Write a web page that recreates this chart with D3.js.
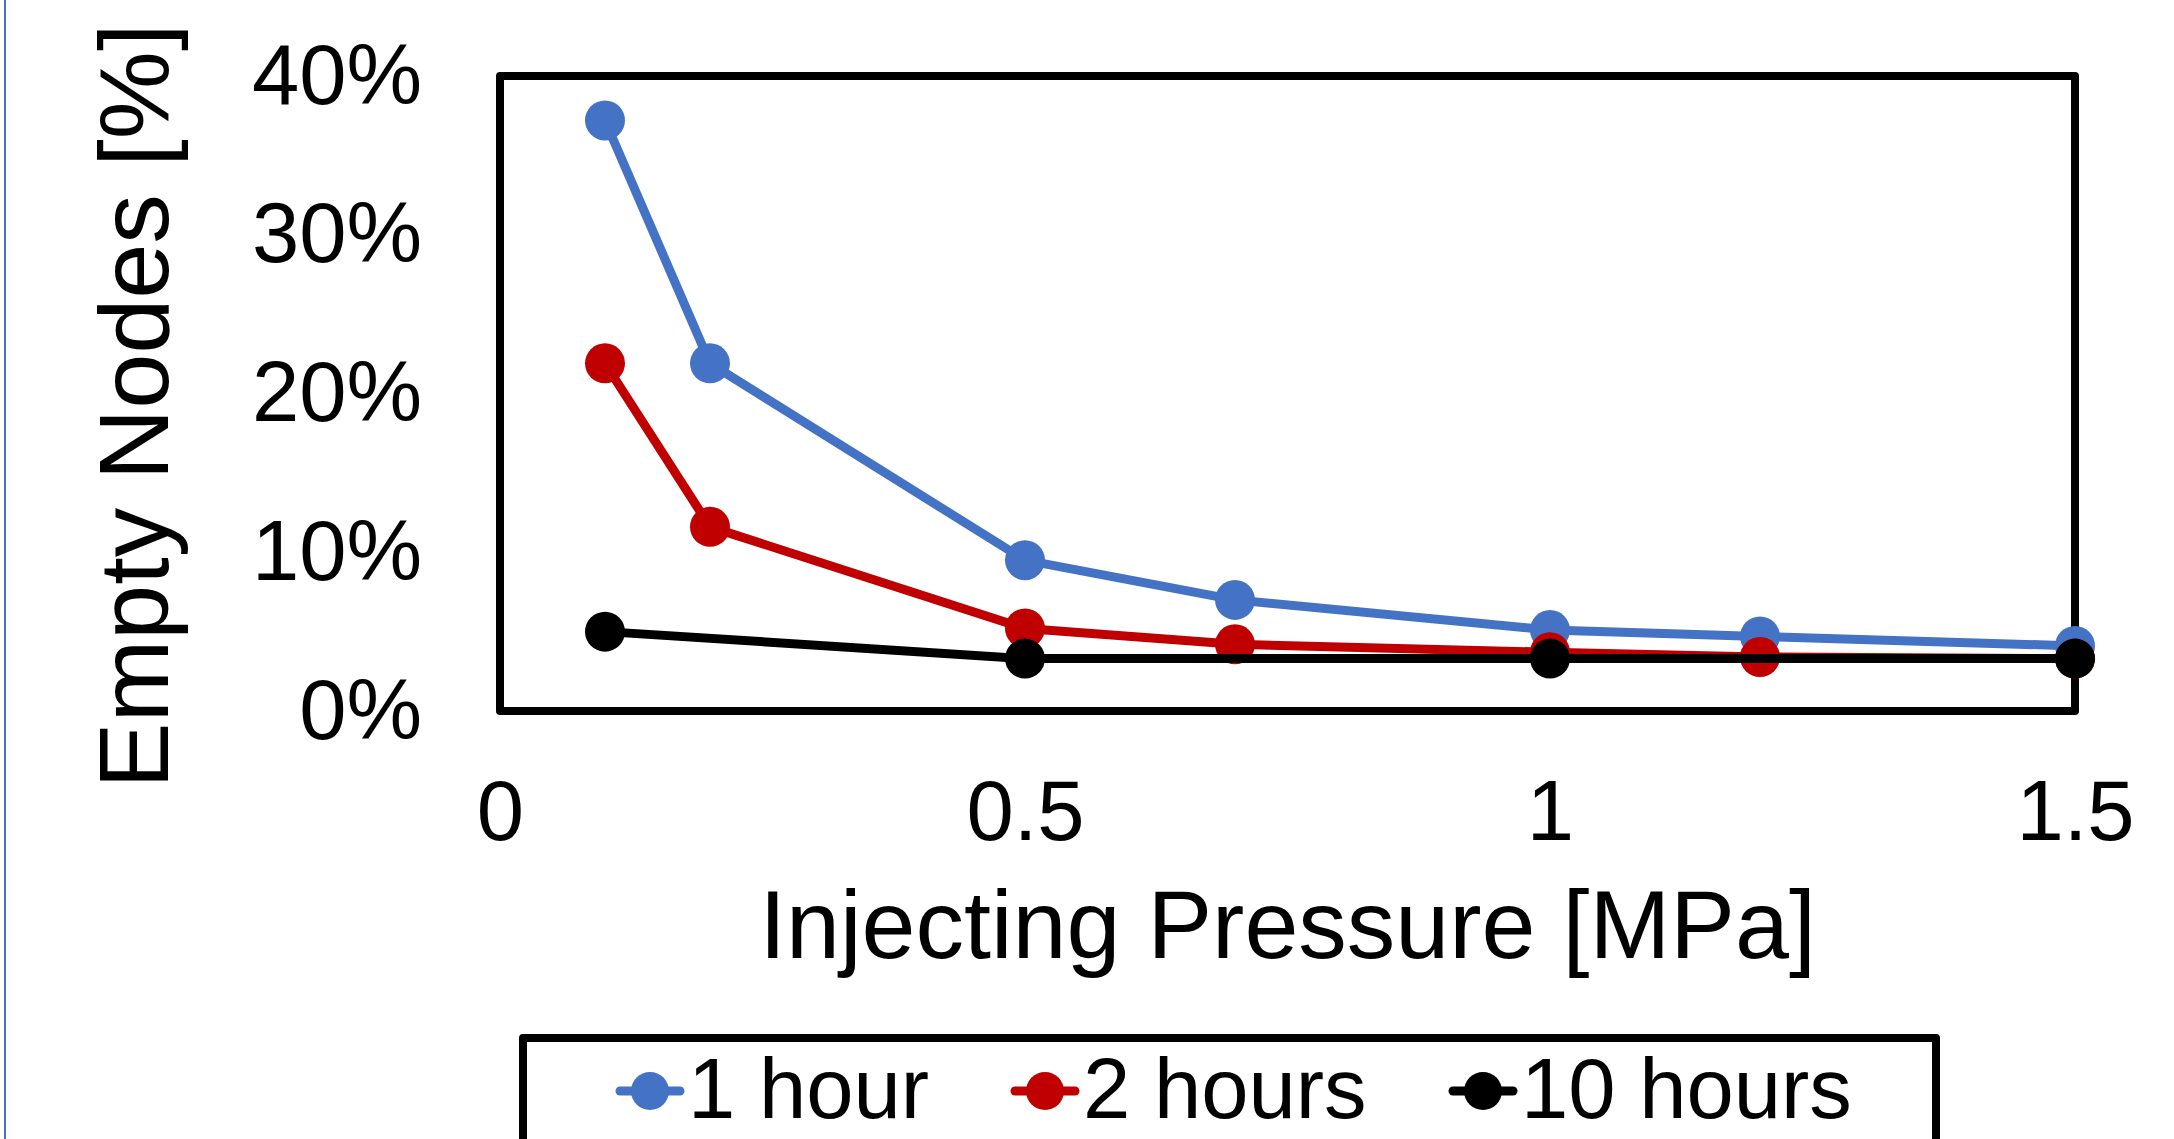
<!DOCTYPE html>
<html>
<head>
<meta charset="utf-8">
<script src="https://cdn.jsdelivr.net/npm/d3@7/dist/d3.min.js"></script>
<style>
  body { margin: 0; background: #fff; }
  text { font-family: "Liberation Sans", Arial, sans-serif; fill: #000; }
</style>
</head>
<body>
<div id="chart"></div>
<script>
// data
const seriesNames = ['1 hour', '2 hours', '10 hours'];
const seriesColors = ['#4472C4', '#C00000', '#000000'];
const pressure1h = [0.1, 0.2, 0.5, 0.7, 1.0, 1.2, 1.5];
const empty1h = [0.372, 0.219, 0.095, 0.070, 0.051, 0.047, 0.041];
const pressure2h = [0.1, 0.2, 0.5, 0.7, 1.0, 1.2, 1.5];
const empty2h = [0.219, 0.116, 0.052, 0.042, 0.037, 0.034, 0.033];
const pressure10h = [0.1, 0.5, 1.0, 1.5];
const empty10h = [0.050, 0.033, 0.033, 0.033];
const xTicks = [0, 0.5, 1, 1.5];
const yTicks = [0, 0.1, 0.2, 0.3, 0.4];

const W = 2174, H = 1139;
const m = {left: 500, right: 99, top: 76, bottom: 428};

let svg = d3.select('#chart').append('svg').attr('width', W).attr('height', H);

// thin blue frame line at left edge
svg.append('line').attr('x1', 5).attr('x2', 5).attr('y1', 0).attr('y2', H)
  .attr('stroke', '#4472C4').attr('stroke-width', 2);

let x = d3.scaleLinear().domain([0, 1.5]).range([m.left, W - m.right]);
let y = d3.scaleLinear().domain([0, 0.4]).range([H - m.bottom, m.top]);

//坐标轴
let xaxis = d3.axisBottom(x).tickValues(xTicks).tickSize(0).tickPadding(69).tickFormat(d => String(d));
let yaxis = d3.axisLeft(y).tickValues(yTicks).tickSize(0).tickPadding(78).tickFormat(d3.format('.0%'));

let gx = svg.append('g').attr('transform', 'translate(0,' + y(0) + ')').call(xaxis);
let gy = svg.append('g').attr('transform', 'translate(' + x(0) + ',0)').call(yaxis);
[gx, gy].forEach(g => {
  g.select('.domain').remove();
  g.selectAll('text').style('font-family', '"Liberation Sans", Arial, sans-serif')
    .style('font-size', '85px').attr('fill', '#000');
});

// plot frame
svg.append('rect').attr('x', x(0)).attr('y', y(0.4))
  .attr('width', x(1.5) - x(0)).attr('height', y(0) - y(0.4))
  .attr('fill', 'none').attr('stroke', '#000').attr('stroke-width', 8).attr('stroke-linejoin', 'round');

// axis titles
svg.append('text').attr('x', (x(0) + x(1.5)) / 2).attr('y', 958)
  .attr('text-anchor', 'middle').style('font-size', '97px').text('Injecting Pressure [MPa]');
svg.append('text').attr('transform', 'translate(168,' + 406 + ') rotate(-90)')
  .attr('text-anchor', 'middle').style('font-size', '99px').text('Empty Nodes [%]');

//折线
let series = [
  pressure1h.map((p, i) => ({p: p, v: empty1h[i]})),
  pressure2h.map((p, i) => ({p: p, v: empty2h[i]})),
  pressure10h.map((p, i) => ({p: p, v: empty10h[i]}))
];
let lineg = d3.line().x(d => x(d.p)).y(d => y(d.v));

series.forEach((s, i) => {
  let g = svg.append('g');
  g.append('path').attr('d', lineg(s)).attr('fill', 'none')
    .attr('stroke', seriesColors[i]).attr('stroke-width', 9).attr('stroke-linejoin', 'round');
  g.selectAll('circle').data(s).enter().append('circle')
    .attr('cx', d => x(d.p)).attr('cy', d => y(d.v)).attr('r', 20)
    .attr('fill', seriesColors[i]);
});

// legend
let lg = svg.append('g');
lg.append('rect').attr('x', 523).attr('y', 1038).attr('width', 1413).attr('height', 200)
  .attr('fill', '#fff').attr('stroke', '#000').attr('stroke-width', 8).attr('stroke-linejoin', 'round');
let legendX = [650, 1045, 1483];
seriesNames.forEach((name, i) => {
  let cx = legendX[i], cy = 1091;
  lg.append('line').attr('x1', cx - 30).attr('x2', cx + 30).attr('y1', cy).attr('y2', cy)
    .attr('stroke', seriesColors[i]).attr('stroke-width', 9).attr('stroke-linecap', 'round');
  lg.append('circle').attr('cx', cx).attr('cy', cy).attr('r', 19).attr('fill', seriesColors[i]);
  lg.append('text').attr('x', cx + 38).attr('y', 1118).style('font-size', '85px').text(name);
});
</script>
</body>
</html>
